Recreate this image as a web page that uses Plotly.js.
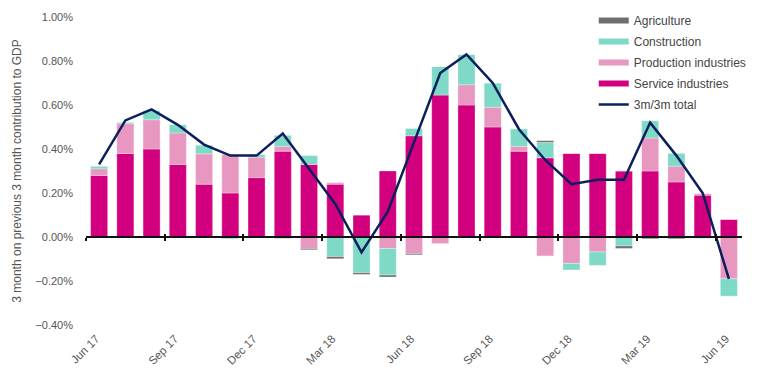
<!DOCTYPE html>
<html>
<head>
<meta charset="utf-8">
<script src="https://cdn.plot.ly/plotly-3.0.1.min.js"></script>
<style>html,body{margin:0;padding:0;background:#fff;}#chart{width:757px;height:379px;}</style>
</head>
<body>
<div id="chart"></div>
<script>
const categories = ['Jun 17','Jul 17','Aug 17','Sep 17','Oct 17','Nov 17','Dec 17','Jan 18','Feb 18','Mar 18','Apr 18','May 18','Jun 18','Jul 18','Aug 18','Sep 18','Oct 18','Nov 18','Dec 18','Jan 19','Feb 19','Mar 19','Apr 19','May 19','Jun 19'];
const service      = [0.28, 0.38, 0.40, 0.33, 0.24, 0.20, 0.27, 0.39, 0.33, 0.24, 0.10, 0.30, 0.46, 0.645, 0.60, 0.50, 0.39, 0.36, 0.38, 0.38, 0.30, 0.30, 0.25, 0.19, 0.08];
const production   = [0.03, 0.135, 0.133, 0.143, 0.138, 0.176, 0.093, 0.022, -0.052, 0.007, 0, -0.052, -0.075, -0.03, 0.092, 0.09, 0.022, -0.086, -0.12, -0.068, 0, 0.15, 0.072, 0.008, -0.19];
const construction = [0.012, 0.007, 0.042, 0.038, 0.04, -0.008, 0.013, 0.05, 0.04, -0.089, -0.162, -0.121, 0.033, 0.13, 0.138, 0.11, 0.08, 0.07, -0.03, -0.061, -0.041, 0.078, 0.058, -0.006, -0.079];
const agriculture  = [0, 0, 0, 0, 0, 0, 0, -0.006, -0.006, -0.01, -0.008, -0.009, -0.006, 0, 0, 0, 0, 0.008, 0, 0, -0.011, -0.008, -0.008, 0, 0];
const total        = [0.33, 0.53, 0.58, 0.51, 0.42, 0.37, 0.37, 0.47, 0.31, 0.15, -0.07, 0.115, 0.43, 0.745, 0.83, 0.70, 0.49, 0.35, 0.24, 0.26, 0.26, 0.52, 0.37, 0.20, -0.19];
const tickLabels = ['Jun 17','Sep 17','Dec 17','Mar 18','Jun 18','Sep 18','Dec 18','Mar 19','Jun 19'];

const colors = {service:'#d2007e', production:'#e897c1', construction:'#7fd9c7', agriculture:'#6e6e70', total:'#0b1f5c'};
const font = 'Liberation Sans, Arial, sans-serif';

function barTrace(name, y, color) {
  return {type:'bar', x:categories, y:y, name:name, showlegend:false, legendgroup:name,
    marker:{color:color, line:{color:'rgba(255,255,255,0.6)', width:0.5}}, hoverinfo:'x+y+name'};
}
function proxy(name, color, rank) {
  return {type:'scatter', mode:'lines', x:[null], y:[null], name:name, legendgroup:name,
    legendrank:rank, line:{color:color, width:6}, hoverinfo:'skip'};
}
const boundaryVals = tickLabels.map(l => categories.indexOf(l) - 0.5);

const data = [
  barTrace('Service industries', service, colors.service),
  barTrace('Production industries', production, colors.production),
  barTrace('Construction', construction, colors.construction),
  barTrace('Agriculture', agriculture, colors.agriculture),
  {type:'scatter', mode:'lines', x:categories, y:total, name:'3m/3m total', legendgroup:'total', legendrank:5,
    line:{color:colors.total, width:2.5}},
  proxy('Agriculture', colors.agriculture, 1),
  proxy('Construction', colors.construction, 2),
  proxy('Production industries', colors.production, 3),
  proxy('Service industries', colors.service, 4),
  {type:'scatter', x:[null], y:[null], xaxis:'x2', yaxis:'y', showlegend:false, hoverinfo:'skip'},
  {type:'scatter', x:[null], y:[null], xaxis:'x3', yaxis:'y', showlegend:false, hoverinfo:'skip'}
];

const yMin = -0.4, yMax = 1.0;
const zeroPos = (0 - yMin) / (yMax - yMin);

const layout = {
  width:757, height:379,
  margin:{l:86, r:15, t:17, b:54, autoexpand:false},
  paper_bgcolor:'#fff', plot_bgcolor:'#fff',
  font:{family:font, color:'#555', size:11},
  barmode:'relative', bargap:0.35,
  showlegend:true,
  legend:{x:0.774, xanchor:'left', y:1.036, yanchor:'top', bgcolor:'rgba(0,0,0,0)',
    font:{family:font, size:12, color:'#444'}, traceorder:'grouped', tracegroupgap:2, itemwidth:30},
  xaxis:{type:'category', range:[-0.5, categories.length-0.5], tickmode:'array', tickvals:tickLabels, ticktext:tickLabels,
    tickangle:-45, showline:false, showgrid:false, zeroline:false, ticks:'', ticklabelstandoff:4, ticklabelshift:-3,
    tickfont:{size:11.5, color:'#555'}},
  xaxis2:{overlaying:'x', anchor:'free', position:zeroPos, range:[-0.5, categories.length-0.5],
    showline:true, linecolor:'#111', linewidth:2, ticks:'outside', ticklen:3, tickwidth:2, tickcolor:'#111',
    tickmode:'array', tickvals:boundaryVals, showticklabels:false, showgrid:false, zeroline:false, fixedrange:true},
  xaxis3:{overlaying:'x', anchor:'free', position:zeroPos, range:[-0.5, categories.length-0.5],
    showline:false, ticks:'inside', ticklen:3, tickwidth:2, tickcolor:'#111',
    tickmode:'array', tickvals:boundaryVals, showticklabels:false, showgrid:false, zeroline:false, fixedrange:true},
  yaxis:{range:[yMin, yMax], dtick:0.2, tick0:0, tickformat:'.2f', ticksuffix:'%', showgrid:false, zeroline:false,
    showline:false, ticks:'', ticklabelstandoff:12, tickfont:{size:11, color:'#555'},
    title:{text:'3 month on previous 3 month contribution to GDP', font:{size:12, color:'#555'}, standoff:11}}
};

Plotly.newPlot('chart', data, layout, {displayModeBar:false, staticPlot:true});
</script>
</body>
</html>
